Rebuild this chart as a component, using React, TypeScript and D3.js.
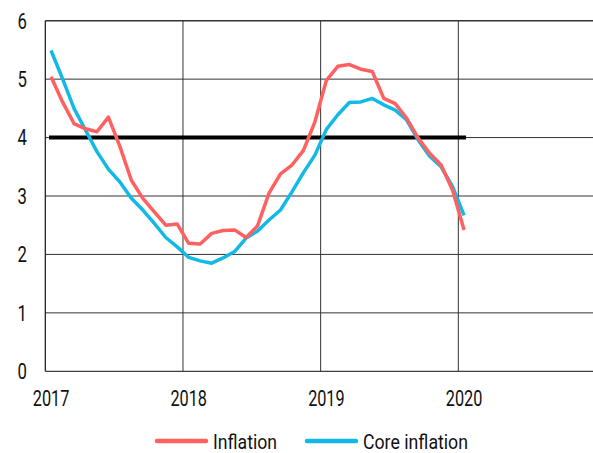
import { useEffect, useRef } from "react";
import * as d3 from "d3";

// Monthly values, Jan 2017 .. Jan 2020
const startYear = 2017;
const inflation = [
    5.04, 4.61, 4.24, 4.15, 4.1, 4.35, 3.85, 3.27, 2.96, 2.73, 2.5, 2.52,
    2.19, 2.18, 2.36, 2.41, 2.42, 2.29, 2.49, 3.05, 3.38, 3.53, 3.78, 4.27,
    4.98, 5.22, 5.25, 5.17, 5.13, 4.67, 4.58, 4.33, 3.99, 3.73, 3.53, 3.1,
    2.42,
];
const coreInflation = [
    5.49, 5.01, 4.5, 4.13, 3.76, 3.46, 3.24, 2.96, 2.76, 2.53, 2.29, 2.13,
    1.95, 1.89, 1.85, 1.94, 2.05, 2.28, 2.4, 2.59, 2.76, 3.07, 3.4, 3.7,
    4.14, 4.39, 4.6, 4.61, 4.67, 4.56, 4.47, 4.3, 3.96, 3.68, 3.5, 3.16,
    2.67,
];
const target = 4;
const yearTicks = [2017, 2018, 2019, 2020];
const gridYears = [2018, 2019, 2020, 2021];
const yTicks = [0, 1, 2, 3, 4, 5, 6];
const seriesNames = ["Inflation", "Core inflation"];

const RED = "#ff6060";
const BLUE = "#12b9e7";
// condensed look: a regular face squeezed with textLength
const FONT = "Roboto, 'Liberation Sans', sans-serif";

const App = () => {
    const svgRef = useRef<SVGSVGElement>(null);
    const width = 593;
    const height = 453;

    useEffect(() => {
        if (!svgRef.current) return;
        const svg = d3.select(svgRef.current);
        svg.selectAll("*").remove();

        const x = d3.scaleLinear().domain([2017, 2021]).range([45.3, 596]);
        const y = d3.scaleLinear().domain([0, 6]).range([371.3, 20.7]);
        const monthX = (i: number) => x(startYear + (i + 0.5) / 12);

        // Grid
        svg.append("g")
            .selectAll("line")
            .data(yTicks)
            .enter()
            .append("line")
            .attr("x1", x(2017))
            .attr("x2", width)
            .attr("y1", (d) => y(d))
            .attr("y2", (d) => y(d))
            .attr("stroke", (d) => (d === 0 ? "#111" : "#333"))
            .attr("stroke-width", (d) => (d === 6 ? 1.5 : 1));

        svg.append("g")
            .selectAll("line")
            .data(gridYears)
            .enter()
            .append("line")
            .attr("x1", (d) => x(d))
            .attr("x2", (d) => x(d))
            .attr("y1", y(6))
            .attr("y2", y(0))
            .attr("stroke", "#333")
            .attr("stroke-width", 1);

        svg.append("line")
            .attr("x1", x(2017))
            .attr("x2", x(2017))
            .attr("y1", y(6))
            .attr("y2", y(0))
            .attr("stroke", "#111")
            .attr("stroke-width", 1.2);

        // Y labels
        svg.append("g")
            .selectAll("text")
            .data(yTicks)
            .enter()
            .append("text")
            .attr("x", 26.8)
            .attr("y", (d) => y(d) + 7.8)
            .attr("text-anchor", "end")
            .attr("font-family", FONT)
            .attr("font-size", 22)
            .attr("textLength", 9.4)
            .attr("lengthAdjust", "spacingAndGlyphs")
            .attr("fill", "#111")
            .text((d) => d);

        // X labels
        svg.append("g")
            .selectAll("text")
            .data(yearTicks)
            .enter()
            .append("text")
            .attr("x", (d) => x(d + 0.5 / 12))
            .attr("y", 405.5)
            .attr("text-anchor", "middle")
            .attr("font-family", FONT)
            .attr("font-size", 22)
            .attr("textLength", 36.5)
            .attr("lengthAdjust", "spacingAndGlyphs")
            .attr("fill", "#111")
            .text((d) => d);

        // Target line
        svg.append("line")
            .attr("x1", monthX(0))
            .attr("x2", monthX(inflation.length - 1))
            .attr("y1", y(target))
            .attr("y2", y(target))
            .attr("stroke", "#000")
            .attr("stroke-width", 4)
            .attr("stroke-linecap", "square");

        const line = d3
            .line<number>()
            .x((_, i) => monthX(i))
            .y((d) => y(d));

        svg.append("path")
            .attr("d", line(coreInflation))
            .attr("fill", "none")
            .attr("stroke", BLUE)
            .attr("stroke-width", 3.5)
            .attr("stroke-linejoin", "round");

        svg.append("path")
            .attr("d", line(inflation))
            .attr("fill", "none")
            .attr("stroke", RED)
            .attr("stroke-width", 3.5)
            .attr("stroke-linejoin", "round");

        // Legend
        const legend = [
            { name: seriesNames[0], color: RED, x: 157, w: 64 },
            { name: seriesNames[1], color: BLUE, x: 307, w: 105 },
        ];
        legend.forEach((l) => {
            svg.append("line")
                .attr("x1", l.x)
                .attr("x2", l.x + 49)
                .attr("y1", 441)
                .attr("y2", 441)
                .attr("stroke", l.color)
                .attr("stroke-width", 4.5)
                .attr("stroke-linecap", "round");
            svg.append("text")
                .attr("x", l.x + 56)
                .attr("y", 448.5)
                .attr("font-family", FONT)
                .attr("font-size", 20.5)
                .attr("textLength", l.w)
                .attr("lengthAdjust", "spacingAndGlyphs")
                .attr("fill", "#111")
                .text(l.name);
        });
    }, []);

    return (
        <svg
            ref={svgRef}
            width={width}
            height={height}
            style={{ position: "absolute", left: 0, top: 0, background: "#fff", display: "block" }}
        />
    );
};

export default App;
